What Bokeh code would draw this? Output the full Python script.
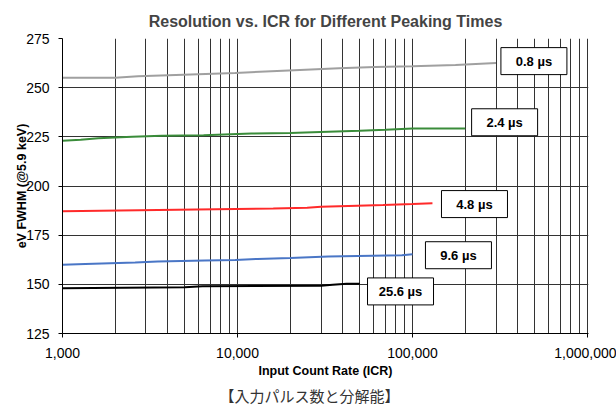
from bokeh.plotting import figure
from bokeh.models import FixedTicker, NumeralTickFormatter, Title
from bokeh.core.properties import value
from bokeh.embed import file_html
from bokeh.resources import INLINE

# ---- data ----
icr_08 = [1000, 2000, 2700, 4900, 9700, 19600, 38000, 61000, 100000, 176000, 300000]
ev_08 = [255.0, 255.0, 255.8, 256.6, 257.5, 258.7, 259.9, 260.5, 260.9, 261.5, 262.6]

icr_24 = [1000, 1270, 1600, 2500, 3700, 6400, 12000, 20000, 33000, 50000, 70000, 100000, 200000]
ev_24 = [223.0, 223.5, 224.3, 225.0, 225.5, 225.8, 226.7, 227.0, 227.6, 228.1, 228.6, 229.2, 229.3]

icr_48 = [1000, 5800, 16000, 25000, 30000, 43000, 68000, 100000, 130000]
ev_48 = [187.2, 188.1, 188.6, 188.9, 189.4, 189.8, 190.3, 190.8, 191.2]

icr_96 = [1000, 1350, 2600, 3500, 6500, 9700, 13000, 20000, 33000, 87000, 100000]
ev_96 = [160.0, 160.4, 161.1, 161.6, 162.1, 162.4, 162.9, 163.4, 164.1, 164.8, 165.3]

icr_256 = [1000, 5000, 6300, 30000, 35000, 42000, 50000]
ev_256 = [148.0, 148.5, 149.0, 149.3, 149.8, 150.3, 150.3]

series_names = ["0.8 µs", "2.4 µs", "4.8 µs", "9.6 µs", "25.6 µs"]
series_x = [icr_08, icr_24, icr_48, icr_96, icr_256]
series_y = [ev_08, ev_24, ev_48, ev_96, ev_256]
series_colors = ["#a0a0a0", "#3a8c3a", "#ff2a2a", "#4a76c6", "#000000"]

x_major_ticks = [1000, 10000, 100000, 1000000]
x_minor_ticks = [m * d for d in (1000, 10000, 100000) for m in range(2, 10)]
y_ticks = [125, 150, 175, 200, 225, 250, 275]

# label box anchors (annotation placement)
label_x = [494000, 336000, 226000, 183000, 85400]
label_y = [263.5, 232.4, 190.8, 164.8, 146.4]

FONT = "Liberation Sans"

p = figure(width=616, height=411, x_axis_type="log",
           x_range=(1000, 1013000), y_range=(125, 275),
           output_backend="svg", toolbar_location=None,
           min_border_left=62, min_border_right=28,
           min_border_top=38, min_border_bottom=78)

p.title.text = "Resolution vs. ICR for Different Peaking Times"
p.title.align = "center"
p.title.text_font = FONT
p.title.text_font_size = "16px"
p.title.text_font_style = "bold"
p.title.standoff = 18

p.outline_line_color = None
p.background_fill_color = "white"

# axes
p.xaxis.ticker = FixedTicker(ticks=x_major_ticks, minor_ticks=x_minor_ticks)
p.xaxis.formatter = NumeralTickFormatter(format="0,0")
p.yaxis.ticker = FixedTicker(ticks=y_ticks, minor_ticks=[])
for ax in (p.xaxis[0], p.yaxis[0]):
    ax.axis_line_color = "black"
    ax.major_tick_line_color = "black"
    ax.major_tick_out = 4
    ax.major_tick_in = 0
    ax.minor_tick_out = 0
    ax.minor_tick_in = 0
    ax.major_label_text_font = FONT
    ax.major_label_text_font_size = "14px"
    ax.major_label_text_color = "black"
    ax.axis_label_text_font = FONT
    ax.axis_label_text_font_size = "12.5px"
    ax.axis_label_text_font_style = "bold"
    ax.axis_label_text_color = "black"

p.xaxis.axis_label = "Input Count Rate (ICR)"
p.xaxis.major_label_standoff = 10
p.xaxis.axis_label_standoff = 3
p.yaxis.axis_label = "eV FWHM (@5.9 keV)"
p.yaxis.major_label_standoff = 9
p.yaxis.axis_label_standoff = -6

# grids
p.xgrid.grid_line_color = "#333333"
p.xgrid.grid_line_width = 1
p.xgrid.minor_grid_line_color = "#333333"
p.xgrid.minor_grid_line_width = 1
p.ygrid.ticker = FixedTicker(ticks=[150, 175, 200, 225, 250])
p.ygrid.grid_line_color = "#333333"
p.ygrid.grid_line_width = 1

# series
for xs, ys, c in zip(series_x, series_y, series_colors):
    p.line(xs, ys, line_color=c, line_width=2)

# label boxes
p.rect(x=label_x, y=label_y, width=66, height=27,
       width_units="screen", height_units="screen",
       fill_color="white", line_color="black", line_width=1)
p.text(x=label_x, y=label_y, text=series_names,
       text_align="center", text_baseline="middle",
       text_font=value(FONT), text_font_style="bold",
       text_font_size="13px", text_color="black")

# caption
cap = Title(text="【入力パルス数と分解能】", align="left",
            text_font="Noto Sans CJK JP", text_font_size="15px",
            text_font_style="normal", text_color="#333333", offset=157, standoff=5)
p.add_layout(cap, "below")

open("out.html", "w").write(file_html(p, INLINE))
